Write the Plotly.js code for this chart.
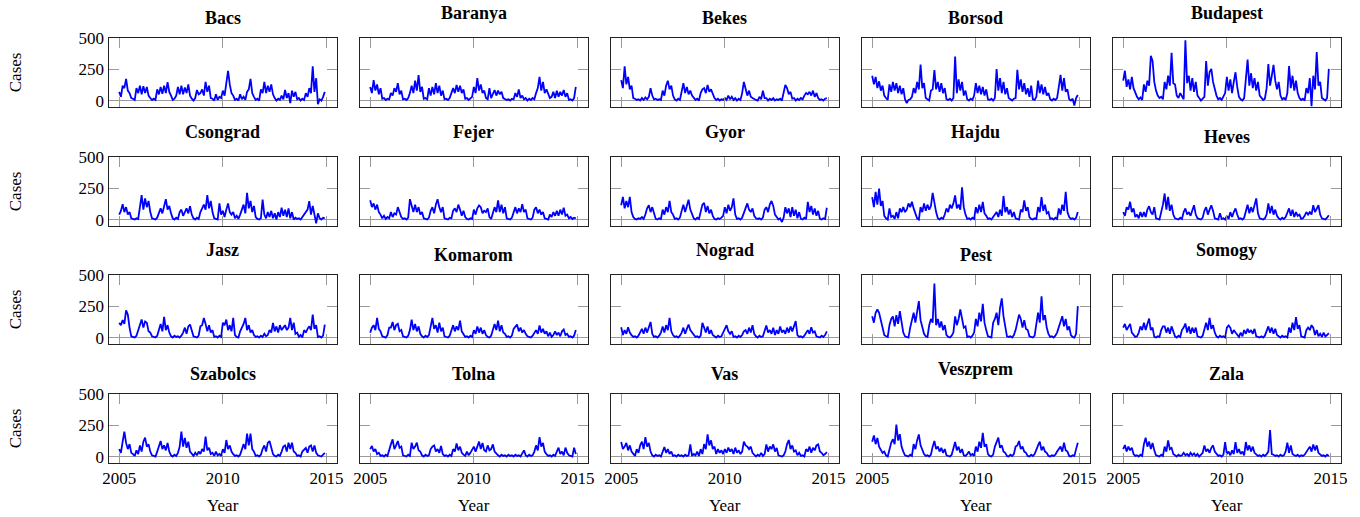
<!DOCTYPE html>
<html><head><meta charset="utf-8">
<script src="https://cdn.plot.ly/plotly-3.0.1.min.js"></script>
<style>html,body{margin:0;padding:0;background:#fff}#chart{width:1360px;height:517px}</style>
</head><body><div id="chart"></div>
<script>
// Counties (panel titles), row-major order
const counties = ['Bacs','Baranya','Bekes','Borsod','Budapest',
  'Csongrad','Fejer','Gyor','Hajdu','Heves',
  'Jasz','Komarom','Nograd','Pest','Somogy',
  'Szabolcs','Tolna','Vas','Veszprem','Zala'];

// Monthly readings (Jan 2005 .. Dec 2014), alternating local highs/lows of the weekly band
const bacs = [70,30,120,100,175,80,60,20,15,5,100,60,
120,50,115,60,110,40,20,5,15,5,90,50,
110,55,120,60,148,70,40,5,15,40,110,50,
120,50,105,60,130,40,15,0,20,85,50,60,
90,40,150,70,120,20,15,0,50,5,30,20,
80,40,140,240,130,60,40,5,15,0,50,10,
30,5,70,90,175,60,30,5,15,0,90,60,
150,60,120,70,130,50,20,0,15,5,40,10,
85,20,60,-20,80,30,70,10,20,0,15,5,
60,30,100,60,275,70,180,-30,10,0,30,70];
const baranya = [110,60,165,80,130,50,100,15,20,5,15,10,
60,40,100,70,140,50,80,10,15,5,20,60,
120,60,160,80,205,70,110,15,20,10,100,40,
110,50,140,60,120,40,80,10,15,5,20,60,
100,60,125,70,120,60,90,15,20,5,15,30,
110,60,180,80,130,60,80,20,10,100,20,60,
85,40,80,50,70,20,15,5,10,0,15,10,
60,30,90,20,40,10,20,0,15,5,20,10,
60,100,190,80,150,60,90,60,20,30,70,20,
80,30,70,40,85,30,60,5,10,0,20,110];
const bekes = [165,100,275,130,190,90,120,20,15,5,10,0,
20,5,25,10,30,100,40,10,15,5,10,5,
80,40,120,160,90,120,40,10,0,15,5,80,
140,60,110,50,80,40,20,5,15,0,60,90,
100,60,126,70,90,50,20,5,15,0,10,5,
20,5,40,10,30,5,20,0,15,5,60,150,
100,40,80,30,20,10,5,0,30,10,80,20,
20,0,15,5,20,0,10,5,15,0,60,126,
100,50,70,15,20,0,15,5,20,10,40,60,
50,70,40,80,30,60,20,5,10,0,15,20];
const borsod = [200,130,190,100,155,80,120,40,20,5,130,70,
150,80,140,60,120,50,100,10,-20,5,10,30,
100,60,150,90,290,100,140,20,10,0,80,90,
245,90,150,70,140,60,100,10,5,15,0,20,
355,60,170,80,150,40,80,10,0,15,5,40,
140,60,120,50,110,40,90,10,5,15,0,20,
253,80,180,60,150,50,100,20,10,0,15,20,
247,90,170,70,140,50,100,30,120,10,5,30,
160,60,130,50,110,40,60,10,0,15,5,20,
110,207,80,180,70,90,10,0,15,-40,20,45];
const budapest = [160,240,110,170,90,190,100,60,30,10,25,5,
130,70,160,120,360,320,150,80,40,20,30,10,
150,90,200,120,385,140,130,40,20,60,30,10,
485,140,200,80,180,70,150,40,20,0,15,30,
318,120,230,255,150,90,40,10,20,5,30,60,
190,80,170,60,150,228,110,30,10,0,20,150,
330,120,220,100,180,80,150,40,20,5,15,100,
293,120,200,288,160,90,150,40,10,20,5,60,
277,100,200,80,160,60,20,5,15,0,100,60,
180,-45,200,90,390,120,150,20,10,0,20,255];
const csongrad = [40,70,124,60,100,40,60,10,5,0,10,5,
100,196,80,170,100,150,60,10,5,0,15,60,
90,50,120,164,80,110,50,10,0,15,5,60,
80,30,60,90,50,108,40,10,0,15,5,60,
90,120,80,196,90,150,60,10,5,0,130,40,
70,20,80,130,60,40,60,10,30,5,40,80,
120,50,215,90,150,60,110,20,5,0,10,160,
40,10,60,20,70,10,50,0,60,20,95,30,
80,20,90,10,60,0,15,5,10,0,20,40,
60,80,148,40,110,30,-30,50,10,0,15,10];
const fejer = [155,100,130,80,120,60,40,10,30,5,20,10,
60,20,50,40,100,50,20,5,10,0,15,164,
100,60,120,60,100,40,60,10,5,0,15,70,
100,50,120,164,100,60,100,10,5,0,15,10,
70,90,60,120,80,30,70,20,5,0,10,5,
80,40,90,113,100,50,70,60,90,20,5,60,
100,60,155,60,120,50,100,10,5,0,15,60,
100,50,90,60,124,60,80,10,5,0,15,80,
100,50,80,40,60,10,5,0,40,20,60,30,
70,30,80,40,95,30,40,10,20,5,15,10];
const gyor = [115,183,90,150,100,183,60,20,5,0,10,5,
20,5,40,90,115,60,100,40,5,0,10,5,
80,40,100,60,150,60,40,5,10,0,15,70,
120,60,110,160,80,40,10,0,15,5,60,120,
135,60,110,50,80,30,5,0,10,5,15,30,
100,50,120,70,100,170,40,5,10,0,15,60,
100,130,80,60,90,30,10,5,10,0,15,80,
100,60,120,150,110,40,20,0,10,-20,15,100,
50,90,20,100,30,80,10,60,5,0,15,5,
143,60,110,40,90,30,70,5,0,10,5,95];
const hajdu = [180,100,223,120,250,110,150,30,10,0,90,20,
30,5,60,10,90,60,100,60,80,130,100,143,
90,40,10,0,100,60,130,70,120,80,110,215,
120,60,10,0,15,5,40,90,60,120,90,130,
195,90,120,80,260,100,40,5,10,0,15,5,
100,50,120,60,143,50,30,5,10,0,20,40,
60,20,80,30,190,60,100,40,80,20,60,10,
5,0,80,60,155,70,100,20,5,0,10,5,
100,60,180,70,120,50,60,5,10,0,15,5,
90,40,120,70,223,60,20,5,10,0,15,60];
const heves = [60,30,100,80,143,60,90,20,40,10,60,20,
60,20,80,108,60,40,100,10,5,0,60,120,
210,80,183,70,120,40,10,5,0,15,5,60,
90,40,60,30,80,115,40,10,5,0,15,70,
100,40,80,115,70,10,5,0,50,5,10,0,
30,5,60,20,60,90,40,5,10,0,15,80,
120,50,100,60,120,170,50,10,5,0,10,40,
130,50,110,40,80,30,10,0,15,5,20,60,
90,30,80,20,60,30,40,5,10,30,60,40,
60,40,115,60,90,115,40,10,5,0,15,35];
const jasz = [118,100,140,110,220,185,80,10,5,0,15,60,
100,145,80,130,120,50,40,10,5,0,15,60,
110,50,167,60,100,40,10,0,15,5,10,0,
15,40,80,30,90,105,50,10,5,0,15,90,
100,158,110,50,100,40,60,5,10,0,15,5,
120,100,145,60,100,50,158,20,5,0,50,80,
110,158,60,100,40,60,20,5,10,0,15,5,
30,10,20,60,40,118,50,90,40,100,60,80,
100,60,80,158,60,120,30,40,5,20,0,60,
40,70,90,60,185,70,100,5,10,0,15,105];
const komarom = [38,80,100,60,158,70,50,10,5,0,20,80,
80,126,60,100,110,50,60,10,5,0,15,60,
145,60,110,50,90,30,10,0,15,5,20,100,
158,70,100,40,120,50,80,10,5,0,15,60,
100,50,90,60,137,50,30,5,10,0,15,5,
60,30,90,40,80,30,60,20,5,0,15,60,
110,60,137,50,100,40,30,5,10,0,15,70,
90,105,50,80,40,60,30,10,5,0,15,40,
60,30,97,40,70,30,50,10,40,5,20,50,
20,40,10,50,65,20,30,5,10,0,15,60];
const nograd = [83,20,60,30,83,40,20,5,10,0,15,40,
70,30,80,40,90,126,30,5,10,0,15,40,
90,40,100,60,158,50,20,5,10,0,15,40,
80,30,70,105,60,40,20,5,10,0,15,118,
80,40,90,30,60,20,10,0,15,5,10,40,
60,100,50,30,50,5,10,0,15,5,20,50,
60,30,80,40,100,30,10,0,15,5,10,60,
97,40,60,30,80,20,60,30,90,40,60,30,
80,40,90,50,100,132,20,5,10,0,15,40,
60,30,83,40,50,10,5,0,15,5,20,50];
const pest = [172,120,200,226,200,130,80,20,10,5,100,150,
170,90,180,110,212,120,40,10,5,0,80,150,
200,120,200,293,140,90,30,10,5,100,150,120,
436,100,150,80,130,60,100,20,5,0,15,40,
170,100,150,226,160,80,90,5,10,0,15,40,
150,90,200,130,272,120,60,10,5,0,120,150,
200,100,240,315,170,80,10,5,10,0,20,60,
140,185,150,80,140,70,60,10,5,0,15,100,
200,120,333,140,180,80,30,5,10,0,15,40,
80,130,172,90,150,60,90,20,5,0,30,253];
const somogy = [80,110,60,90,110,40,20,5,10,40,90,60,
120,60,110,153,60,80,5,0,10,5,60,90,
90,40,80,30,90,40,10,0,15,5,60,80,
113,40,90,30,80,40,80,10,5,0,15,60,
120,60,158,70,100,40,10,0,15,5,10,0,
80,97,80,30,60,40,20,5,40,10,60,30,
70,40,60,30,70,10,5,0,10,0,15,60,
90,40,80,30,70,20,10,0,15,5,10,0,
80,40,120,60,164,70,100,10,5,0,60,80,
60,100,80,20,60,10,30,5,40,10,20,35];
const szabolcs = [60,30,120,200,110,60,100,30,20,5,50,20,
90,40,120,152,80,100,40,10,5,0,40,80,
125,60,90,50,110,40,10,0,15,5,30,80,
200,80,150,70,120,40,20,5,30,10,40,20,
60,40,160,50,70,20,30,5,40,10,20,5,
60,30,133,60,90,40,20,5,10,0,15,60,
100,60,184,90,184,60,40,5,10,0,15,60,
90,40,110,125,60,20,5,0,15,5,40,80,
90,40,112,60,112,40,30,5,10,0,40,60,
70,30,80,90,40,90,30,10,5,0,15,30];
const tolna = [60,85,40,60,20,30,5,10,0,15,5,60,
100,138,60,90,125,70,80,10,5,0,15,5,
112,60,80,112,50,40,10,0,15,5,10,60,
80,90,40,60,30,85,20,5,10,0,15,5,
60,40,106,50,80,30,15,5,40,10,30,60,
80,40,90,120,60,110,50,40,90,50,60,98,
40,20,10,0,15,5,10,0,15,5,10,0,
15,5,10,0,20,50,10,0,15,5,10,40,
90,50,157,80,110,40,20,5,10,0,15,5,
40,72,20,40,10,72,30,10,5,0,72,20];
const vas = [117,60,80,110,50,90,40,20,5,60,30,90,
120,60,157,80,110,40,10,0,15,5,10,0,
40,77,30,60,20,40,5,10,0,15,5,10,
0,15,5,10,98,5,20,10,40,5,60,20,
100,60,178,90,130,60,80,20,60,30,50,20,
60,30,72,40,60,20,72,30,50,20,40,120,
90,80,60,80,30,10,0,15,5,30,5,20,
98,40,80,60,98,40,70,10,5,0,10,40,
100,133,60,90,40,50,10,30,5,10,0,60,
40,80,30,70,50,90,98,40,30,10,20,35];
const veszprem = [120,170,100,150,80,60,30,40,10,0,60,110,
140,100,258,130,180,80,40,10,5,0,15,5,
100,60,130,178,90,60,20,5,10,0,15,80,
125,60,80,40,70,30,60,10,5,0,15,60,
117,50,80,30,60,10,5,20,40,10,20,5,
80,40,120,70,191,80,100,20,5,0,15,80,
110,152,70,90,40,30,5,0,15,5,20,80,
90,125,60,80,40,30,5,0,15,5,20,60,
90,120,50,80,40,30,5,0,10,5,15,40,
60,80,40,112,50,40,5,0,10,5,60,112];
const zala = [60,93,40,80,50,70,20,5,10,0,15,5,
100,152,80,120,60,110,50,10,5,0,15,5,
80,40,130,60,70,20,10,0,15,5,10,30,
10,20,5,30,10,25,5,20,0,15,30,90,
40,60,30,70,90,40,20,5,10,0,15,117,
20,40,10,50,20,117,30,60,20,40,10,117,
50,90,40,80,30,20,5,10,0,15,5,20,
40,213,20,15,5,10,0,15,5,10,40,112,
30,90,20,10,5,15,0,10,5,15,40,60,
80,40,98,50,90,30,20,5,10,0,15,5];

const seriesList = [bacs,baranya,bekes,borsod,budapest,csongrad,fejer,gyor,hajdu,heves,
  jasz,komarom,nograd,pest,somogy,szabolcs,tolna,vas,veszprem,zala];

const startYear = 2005;
const xTickVals = [2005, 2010, 2015];
const yTickVals = [0, 250, 500];
const xLabel = 'Year';
const yLabel = 'Cases';

// ---- layout geometry (pixels) ----
const W = 1360, H = 517;
const colLeft = [108.5, 359.5, 610.5, 861.5, 1112.5], colW = 228;
const rowTop = [37.5, 156.5, 274.5, 393.5], rowH = 69.5;
const FONT = 'Liberation Serif, Times New Roman, serif';

const traces = [];
const layout = {
  width: W, height: H, margin: {l:0, r:0, t:0, b:0},
  paper_bgcolor: '#fff', plot_bgcolor: '#fff', showlegend: false,
  font: {family: FONT, size: 17, color: '#000'},
  annotations: []
};

seriesList.forEach((vals, k) => {
  const r = Math.floor(k / 5), c = k % 5;
  const sfx = k === 0 ? '' : String(k + 1);
  const xs = vals.map((v, i) => startYear + i / 12);
  traces.push({
    type: 'scatter', mode: 'lines', x: xs, y: vals,
    xaxis: 'x' + sfx, yaxis: 'y' + sfx,
    line: {color: '#0000ff', width: 1.8}, hoverinfo: 'skip'
  });
  layout['xaxis' + sfx] = {
    domain: [colLeft[c] / W, (colLeft[c] + colW) / W],
    range: [2004.485, 2015.48], anchor: 'y' + sfx,
    tickmode: 'array', tickvals: xTickVals, ticktext: xTickVals.map(String),
    ticks: 'inside', ticklen: 10, tickwidth: 1, tickcolor: '#9a9a9a',
    showline: true, linecolor: '#222', linewidth: 1, mirror: 'ticks',
    showgrid: false, zeroline: false, showticklabels: r === 3,
    tickfont: {family: FONT, size: 17, color: '#000'}, fixedrange: true
  };
  layout['yaxis' + sfx] = {
    domain: [1 - (rowTop[r] + rowH) / H, 1 - rowTop[r] / H],
    range: [-52, 508], anchor: 'x' + sfx,
    tickmode: 'array', tickvals: yTickVals, ticktext: yTickVals.map(String),
    ticks: 'inside', ticklen: 10, tickwidth: 1, tickcolor: '#9a9a9a',
    showline: true, linecolor: '#222', linewidth: 1, mirror: 'ticks',
    showgrid: false, zeroline: true, zerolinecolor: '#9a9a9a', zerolinewidth: 1,
    showticklabels: c === 0,
    tickfont: {family: FONT, size: 17, color: '#000'}, fixedrange: true
  };
  const desc = /[gjpqyJ]/.test(counties[k]);
  layout.annotations.push({
    text: '<b>' + counties[k] + '</b>', xref: 'paper', yref: 'paper',
    x: (colLeft[c] + colW / 2) / W, y: 1 - (rowTop[r] - (desc ? 24.5 : 19.5)) / H,
    xanchor: 'center', yanchor: 'middle', showarrow: false,
    font: {family: FONT, size: 18, color: '#000'}
  });
  if (c === 0) {
    layout.annotations.push({
      text: yLabel, xref: 'paper', yref: 'paper', textangle: -90,
      x: 15 / W, y: 1 - (rowTop[r] + rowH / 2) / H,
      xanchor: 'center', yanchor: 'middle', showarrow: false,
      font: {family: FONT, size: 17, color: '#000'}
    });
  }
  if (r === 3) {
    layout.annotations.push({
      text: xLabel, xref: 'paper', yref: 'paper',
      x: (colLeft[c] + colW / 2) / W, y: 1 - 505 / H,
      xanchor: 'center', yanchor: 'middle', showarrow: false,
      font: {family: FONT, size: 17, color: '#000'}
    });
  }
});

Plotly.newPlot('chart', traces, layout, {displayModeBar: false, staticPlot: true});
</script>
</body></html>
